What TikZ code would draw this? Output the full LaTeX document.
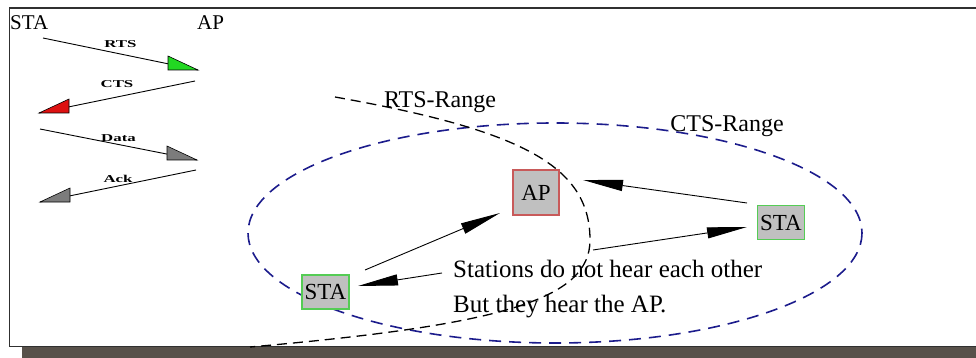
\documentclass[tikz,border=0pt]{standalone}
\usepackage{graphicx}
\usepackage{xcolor}
\usepackage{fontspec}
\setmainfont{Liberation Serif}
\usepackage{tikz}
\usetikzlibrary{arrows.meta, positioning}

\definecolor{boxgray}{HTML}{C0C0C0}
\definecolor{apred}{HTML}{C85A5A}
\definecolor{stagreen}{HTML}{55CC55}
\definecolor{rangeblue}{HTML}{1C1C8C}
\definecolor{shadowbrown}{HTML}{58514A}
\definecolor{framegray}{HTML}{303030}
\definecolor{headgreen}{HTML}{22D822}
\definecolor{headred}{HTML}{DD1111}
\definecolor{headgray}{HTML}{7C7C7C}

\newcommand{\wide}[1]{\scalebox{1.6}[1]{#1}}

\begin{document}
\begin{tikzpicture}[>={Triangle[length=40pt, width=11pt]}, x=1pt, y=-1pt,
    devbox/.style={draw, line width=1.2pt, fill=boxgray, inner sep=0pt,
        font=\fontsize{23}{26}\selectfont},
    stabox/.style={devbox, draw=stagreen, minimum width=47pt, minimum height=34pt},
    apbox/.style={devbox, draw=apred, minimum width=46pt, minimum height=45pt},
    msg/.style={line width=0.9pt},
    msghead/.style={line width=0.6pt, draw=black},
    msglbl/.style={inner sep=0pt, font=\fontsize{10.5}{12}\selectfont\bfseries},
    link/.style={line width=0.9pt, ->},
    hdrtxt/.style={inner sep=0pt, anchor=base west, font=\fontsize{21}{25}\selectfont},
    bigtxt/.style={inner sep=0pt, anchor=base west, font=\fontsize{25}{30}\selectfont},
    rangetxt/.style={inner sep=0pt, anchor=base, font=\fontsize{24}{28}\selectfont}]

    % =================================================================
    % 1. PAGE, FRAME AND SHADOW
    % =================================================================
    \useasboundingbox (0,0) rectangle (976,358);
    \fill[shadowbrown] (22,347) rectangle (976,358);
    \draw[framegray, line width=1.5pt] (976,8) -- (9.5,8) -- (9.5,346.5) -- (976,346.5);

    % =================================================================
    % 2. MESSAGE EXCHANGE (TOP LEFT)
    % =================================================================
    \node[hdrtxt] (hdrSTA) at (10,30) {STA};
    \node[hdrtxt] (hdrAP) at (197,30) {AP};

    \coordinate (rtsS) at (43,38);
    \coordinate (rtsT) at (198,70);
    \coordinate (ctsS) at (195,81);
    \coordinate (ctsT) at (39,113);
    \coordinate (dataS) at (40,129);
    \coordinate (dataT) at (197,160);
    \coordinate (ackS) at (196,170);
    \coordinate (ackT) at (40,202);

    \draw[msg] (rtsS) -- node[msglbl, pos=0.5, above=6pt] (rtsLbl) {\wide{RTS}} (rtsT);
    \draw[msg] (ctsS) -- node[msglbl, pos=0.5, above=9pt] (ctsLbl) {\wide{CTS}} (ctsT);
    \draw[msg] (dataS) -- node[msglbl, pos=0.5, above=2pt] (dataLbl) {\wide{Data}} (dataT);
    \draw[msg] (ackS) -- node[msglbl, pos=0.5, above=3pt] (ackLbl) {\wide{Ack}} (ackT);

    % half heads
    \filldraw[msghead, fill=headgreen] (rtsT) -- ++(-30,0) -- ++(0,-14) -- cycle;
    \filldraw[msghead, fill=headred] (ctsT) -- ++(30,0) -- ++(0,-14) -- cycle;
    \filldraw[msghead, fill=headgray] (dataT) -- ++(-30,0) -- ++(0,-14) -- cycle;
    \filldraw[msghead, fill=headgray] (ackT) -- ++(30,0) -- ++(0,-14) -- cycle;

    % =================================================================
    % 3. RANGES
    % =================================================================
    \draw[rangeblue, line width=1.6pt, dash pattern=on 12pt off 8pt]
        (555,233) ellipse [x radius=307, y radius=110];
    \draw[black, line width=1.3pt, dash pattern=on 10pt off 6pt]
        (335,97) .. controls (520,130) and (590,165) .. (590,240)
        .. controls (590,300) and (500,325) .. (250,347);

    \node[rangetxt] (rtsRange) at (440,108) {RTS-Range};
    \node[rangetxt] (ctsRange) at (727,132) {CTS-Range};

    % =================================================================
    % 4. STATIONS AND ACCESS POINT
    % =================================================================
    \node[stabox] (staL) at (325.5,292) {STA};
    \node[stabox] (staR) at (781,222.5) {STA};
    \node[apbox] (ap) at (536,192.5) {AP};

    \coordinate (upS) at (365,270);
    \coordinate (upT) at (500,213);
    \coordinate (backS) at (442,273);
    \coordinate (backT) at (358,286);
    \coordinate (outS) at (593,250);
    \coordinate (outT) at (747,227);
    \coordinate (inS) at (747,203);
    \coordinate (inT) at (583,180);

    \draw[link] (upS) -- (upT);
    \draw[link] (backS) -- (backT);
    \draw[link] (outS) -- (outT);
    \draw[link] (inS) -- (inT);

    % =================================================================
    % 5. NOTE
    % =================================================================
    \node[bigtxt] (note1) at (453,277) {Stations do not hear each other};
    \node[bigtxt] (note2) at (453,312) {But they hear the AP.};

\end{tikzpicture}
\end{document}
